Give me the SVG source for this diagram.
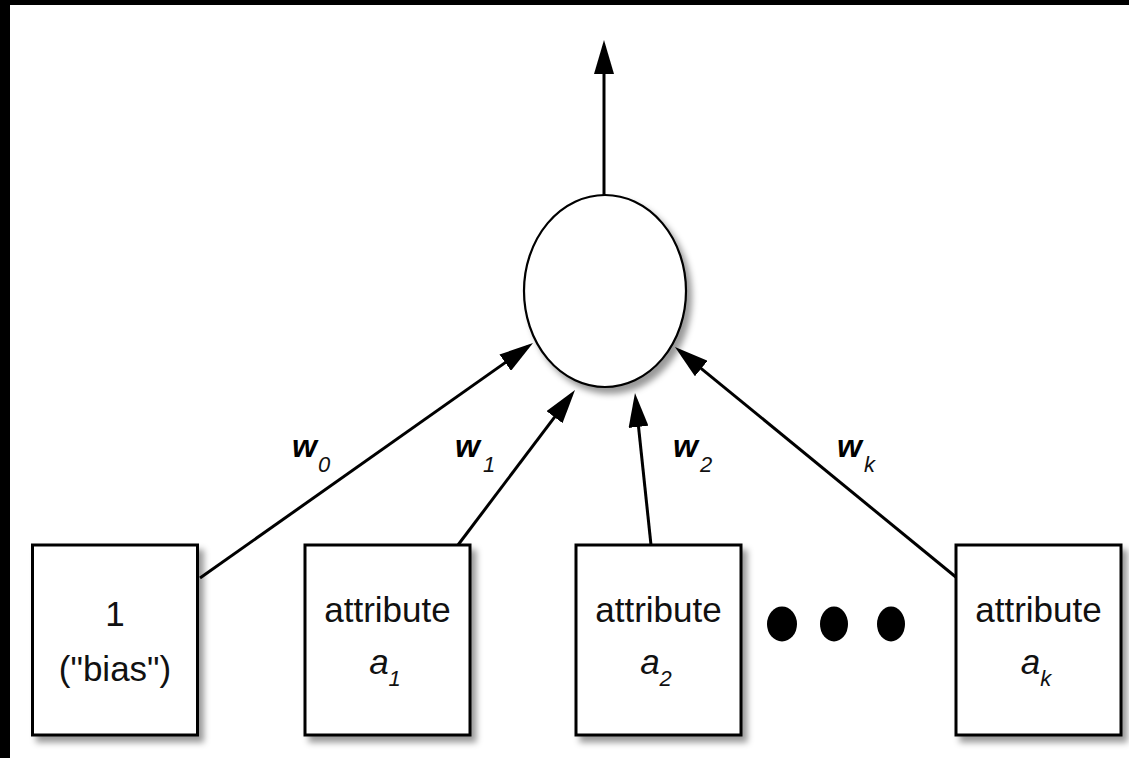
<svg xmlns="http://www.w3.org/2000/svg" width="1129" height="758" viewBox="0 0 1129 758">
<defs>
<style>
.box{fill:#fff;stroke:#000;stroke-width:3;filter:url(#sh)}
.node{fill:#fff;stroke:#000;stroke-width:2.2;filter:url(#sh)}
.edge{stroke:#000;stroke-width:3;fill:none;marker-end:url(#ah)}
.t{font-family:"Liberation Sans",Arial,sans-serif;font-size:35px;fill:#111;text-anchor:middle}
.sub{font-family:"Liberation Sans",Arial,sans-serif;font-size:22px;font-style:italic;fill:#111}
.w{font-family:"Liberation Sans",Arial,sans-serif;font-size:32px;font-weight:bold;font-style:italic;fill:#000}
</style>
<filter id="sh" x="-20%" y="-20%" width="150%" height="150%">
<feDropShadow dx="5" dy="6" stdDeviation="3" flood-color="#000" flood-opacity="0.4"/>
</filter>
<marker id="ah" viewBox="0 0 34 20" refX="28" refY="10" markerWidth="34" markerHeight="20" markerUnits="userSpaceOnUse" orient="auto">
<path d="M0,0 L34,10 L0,20 z" fill="#000"/>
</marker>
</defs>
<rect x="0" y="0" width="1129" height="758" fill="#fff"/>
<rect x="0" y="0" width="1129" height="5" fill="#000"/>
<rect x="0" y="0" width="10" height="758" fill="#000"/>

<g id="connectors">
<line class="edge" x1="604" y1="195" x2="604" y2="46"/>
<line class="edge" x1="200" y1="578" x2="528.1" y2="346.5"/>
<line class="edge" x1="458" y1="545" x2="571.4" y2="394.8"/>
<line class="edge" x1="651" y1="545" x2="635.6" y2="399"/>
<line class="edge" x1="957" y1="578" x2="679.6" y2="350.8"/>
<text class="w" x="292" y="457">w</text><text class="sub" x="318" y="472">0</text>
<text class="w" x="455" y="457">w</text><text class="sub" x="483" y="472">1</text>
<text class="w" x="673" y="457">w</text><text class="sub" x="700" y="472">2</text>
<text class="w" x="837" y="457">w</text><text class="sub" x="864" y="472">k</text>
</g>

<g id="neuron">
<ellipse class="node" cx="605" cy="291" rx="81" ry="96"/>
</g>

<g id="bias">
<rect class="box" x="32.5" y="545" width="165" height="190"/>
<text class="t" x="115" y="626">1</text>
<text class="t" x="115" y="681">("bias")</text>
</g>

<g id="attr1">
<rect class="box" x="305" y="545" width="165" height="190"/>
<text class="t" x="387.5" y="622">attribute</text>
<text class="t" x="385" y="674" font-style="italic">a<tspan class="sub" dy="12">1</tspan></text>
</g>

<g id="attr2">
<rect class="box" x="576" y="545" width="165" height="190"/>
<text class="t" x="658.5" y="622">attribute</text>
<text class="t" x="656" y="674" font-style="italic">a<tspan class="sub" dy="12">2</tspan></text>
</g>

<g id="ellipsis">
<ellipse cx="782" cy="624" rx="15" ry="17.5" fill="#000"/>
<ellipse cx="834" cy="624" rx="14" ry="17.5" fill="#000"/>
<ellipse cx="891" cy="624" rx="14" ry="17.5" fill="#000"/>
</g>

<g id="attrk">
<rect class="box" x="956" y="545" width="165" height="190"/>
<text class="t" x="1038.5" y="622">attribute</text>
<text class="t" x="1036" y="674" font-style="italic">a<tspan class="sub" dy="12">k</tspan></text>
</g>
</svg>
